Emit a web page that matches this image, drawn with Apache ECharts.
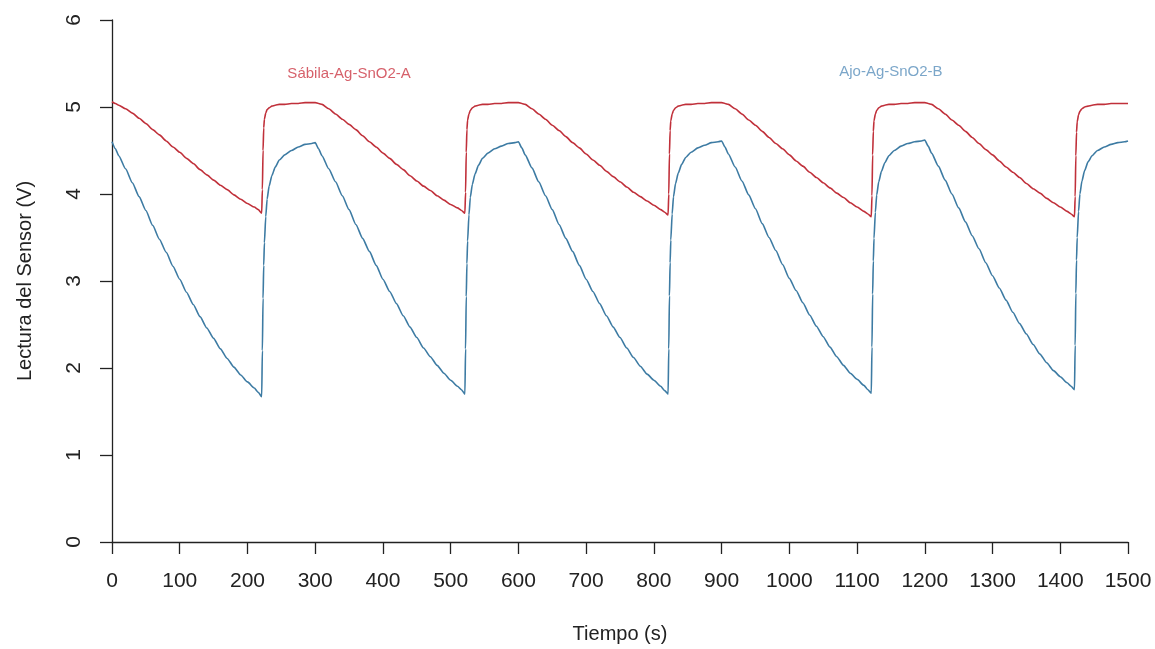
<!DOCTYPE html>
<html>
<head>
<meta charset="utf-8">
<script src="https://cdn.jsdelivr.net/npm/echarts@6/dist/echarts.min.js"></script>
<style>
  html, body { margin: 0; padding: 0; background: #ffffff; }
  #chart { width: 1155px; height: 649px; }
</style>
</head>
<body>
<div id="chart"></div>
<script>
// Sample times (s): five adsorption/recovery cycles of 300 s each
const tiempo = [
  0, 5, 10, 20, 30, 40, 50, 60, 70, 80, 90, 100, 110, 120, 130, 140, 150, 160, 170, 180, 190, 200, 210, 216, 221, 222, 223, 224, 225, 227, 229, 232, 236, 241, 247, 255, 265, 275, 285, 295,
  300, 305, 310, 320, 330, 340, 350, 360, 370, 380, 390, 400, 410, 420, 430, 440, 450, 460, 470, 480, 490, 500, 510, 516, 521, 522, 523, 524, 525, 527, 529, 532, 536, 541, 547, 555, 565, 575, 585, 595,
  600, 605, 610, 620, 630, 640, 650, 660, 670, 680, 690, 700, 710, 720, 730, 740, 750, 760, 770, 780, 790, 800, 810, 816, 821, 822, 823, 824, 825, 827, 829, 832, 836, 841, 847, 855, 865, 875, 885, 895,
  900, 905, 910, 920, 930, 940, 950, 960, 970, 980, 990, 1000, 1010, 1020, 1030, 1040, 1050, 1060, 1070, 1080, 1090, 1100, 1110, 1116, 1121, 1122, 1123, 1124, 1125, 1127, 1129, 1132, 1136, 1141, 1147, 1155, 1165, 1175, 1185, 1195,
  1200, 1205, 1210, 1220, 1230, 1240, 1250, 1260, 1270, 1280, 1290, 1300, 1310, 1320, 1330, 1340, 1350, 1360, 1370, 1380, 1390, 1400, 1410, 1416, 1421, 1422, 1423, 1424, 1425, 1427, 1429, 1432, 1436, 1441, 1447, 1455, 1465, 1475, 1485, 1495,
  1500
];

// Sensor A (Sábila-Ag-SnO2) reading, V
const sabila = [
  5.06, 5.04, 5.02, 4.98, 4.93, 4.87, 4.81, 4.74, 4.68, 4.61, 4.54, 4.48, 4.41, 4.35, 4.28, 4.22, 4.16, 4.10, 4.05, 3.99, 3.94, 3.89, 3.85, 3.82, 3.78, 4.05, 4.50, 4.76, 4.86, 4.93, 4.97, 4.99, 5.01, 5.02, 5.03, 5.03, 5.04, 5.04, 5.05, 5.05,
  5.05, 5.04, 5.03, 4.98, 4.92, 4.86, 4.80, 4.74, 4.67, 4.60, 4.54, 4.47, 4.41, 4.34, 4.28, 4.21, 4.15, 4.09, 4.04, 3.98, 3.93, 3.88, 3.84, 3.81, 3.78, 4.02, 4.48, 4.74, 4.85, 4.92, 4.96, 4.99, 5.01, 5.02, 5.03, 5.03, 5.04, 5.04, 5.05, 5.05,
  5.05, 5.04, 5.03, 4.98, 4.92, 4.86, 4.79, 4.73, 4.66, 4.59, 4.53, 4.46, 4.39, 4.33, 4.26, 4.20, 4.14, 4.08, 4.02, 3.97, 3.92, 3.87, 3.82, 3.79, 3.76, 4.00, 4.46, 4.73, 4.84, 4.92, 4.96, 4.99, 5.01, 5.02, 5.03, 5.03, 5.04, 5.04, 5.05, 5.05,
  5.05, 5.04, 5.03, 4.98, 4.92, 4.85, 4.79, 4.72, 4.65, 4.58, 4.52, 4.45, 4.38, 4.32, 4.25, 4.19, 4.13, 4.07, 4.01, 3.96, 3.90, 3.85, 3.80, 3.77, 3.74, 3.98, 4.45, 4.72, 4.84, 4.92, 4.96, 4.99, 5.01, 5.02, 5.03, 5.03, 5.04, 5.04, 5.05, 5.05,
  5.05, 5.04, 5.03, 4.98, 4.92, 4.85, 4.79, 4.72, 4.65, 4.58, 4.51, 4.45, 4.38, 4.31, 4.25, 4.19, 4.12, 4.06, 4.01, 3.95, 3.90, 3.85, 3.80, 3.77, 3.74, 3.97, 4.44, 4.71, 4.83, 4.91, 4.95, 4.98, 5.00, 5.01, 5.02, 5.03, 5.03, 5.04, 5.04, 5.04,
  5.04
];

// Sensor B (Ajo-Ag-SnO2) reading, V
const ajo = [
  4.60, 4.52, 4.44, 4.29, 4.13, 3.97, 3.81, 3.64, 3.48, 3.33, 3.17, 3.02, 2.87, 2.73, 2.59, 2.46, 2.34, 2.22, 2.11, 2.01, 1.92, 1.84, 1.77, 1.72, 1.67, 2.20, 2.80, 3.18, 3.44, 3.74, 3.94, 4.09, 4.21, 4.31, 4.39, 4.45, 4.50, 4.54, 4.57, 4.58,
  4.59, 4.52, 4.44, 4.29, 4.14, 3.98, 3.82, 3.65, 3.49, 3.34, 3.18, 3.02, 2.88, 2.74, 2.60, 2.47, 2.35, 2.23, 2.13, 2.03, 1.94, 1.86, 1.79, 1.75, 1.70, 2.22, 2.82, 3.20, 3.46, 3.76, 3.96, 4.11, 4.23, 4.33, 4.41, 4.47, 4.52, 4.55, 4.58, 4.59,
  4.60, 4.53, 4.45, 4.30, 4.14, 3.98, 3.82, 3.65, 3.49, 3.34, 3.18, 3.02, 2.88, 2.74, 2.60, 2.47, 2.35, 2.23, 2.12, 2.02, 1.93, 1.86, 1.79, 1.74, 1.70, 2.22, 2.83, 3.21, 3.47, 3.77, 3.97, 4.12, 4.24, 4.34, 4.42, 4.48, 4.53, 4.56, 4.59, 4.60,
  4.61, 4.54, 4.46, 4.31, 4.15, 3.99, 3.83, 3.66, 3.50, 3.35, 3.19, 3.03, 2.89, 2.75, 2.61, 2.48, 2.36, 2.24, 2.13, 2.03, 1.94, 1.87, 1.80, 1.75, 1.71, 2.24, 2.85, 3.23, 3.49, 3.79, 3.99, 4.14, 4.26, 4.36, 4.44, 4.50, 4.55, 4.58, 4.60, 4.61,
  4.62, 4.55, 4.47, 4.32, 4.16, 4.00, 3.84, 3.68, 3.52, 3.37, 3.21, 3.06, 2.92, 2.78, 2.64, 2.51, 2.39, 2.27, 2.16, 2.06, 1.97, 1.90, 1.83, 1.79, 1.75, 2.26, 2.86, 3.24, 3.50, 3.80, 4.00, 4.15, 4.27, 4.37, 4.44, 4.50, 4.54, 4.57, 4.59, 4.60,
  4.61
];

// In-plot labels: [time, volts, text]
const etiquetas = [
  [350, 5.38, 'Sábila-Ag-SnO2-A'],
  [1150, 5.40, 'Ajo-Ag-SnO2-B']
];

const xTicks = [0, 1500, 100];   // min, max, step
const yTicks = [0, 6, 1];

const ROJO = '#c0303a';
const AZUL = '#3d7ba3';
const FONT = '"Liberation Sans", Arial, sans-serif';

const pares = (ys) => tiempo.map((t, i) => [t, ys[i]]);

const chart = echarts.init(document.getElementById('chart'), null, { renderer: 'canvas' });

chart.setOption({
  animation: false,
  backgroundColor: '#ffffff',
  grid: { left: 112, right: 27, top: 20, bottom: 106, containLabel: false },
  xAxis: {
    type: 'value',
    min: xTicks[0], max: xTicks[1], interval: xTicks[2],
    name: 'Tiempo (s)',
    nameLocation: 'middle',
    nameGap: 82,
    nameTextStyle: { fontFamily: FONT, fontSize: 20, color: '#222' },
    axisLine: { show: true, lineStyle: { color: '#222', width: 1.3 } },
    axisTick: { show: true, inside: false, length: 12, lineStyle: { color: '#222', width: 1.3 } },
    axisLabel: {
      margin: 29, fontFamily: FONT, fontSize: 21, color: '#222',
      showMinLabel: true, showMaxLabel: true,
      formatter: (v) => String(v)
    },
    splitLine: { show: false }
  },
  yAxis: {
    type: 'value',
    min: yTicks[0], max: yTicks[1], interval: yTicks[2],
    name: 'Lectura del Sensor (V)',
    nameLocation: 'middle',
    nameGap: 77,
    nameRotate: 90,
    nameTextStyle: { fontFamily: FONT, fontSize: 20, color: '#222' },
    axisLine: { show: true, lineStyle: { color: '#222', width: 1.3 } },
    axisTick: { show: true, inside: false, length: 12, lineStyle: { color: '#222', width: 1.3 } },
    axisLabel: { rotate: 90, margin: 27, fontFamily: FONT, fontSize: 21, color: '#222', formatter: (v) => String(v) },
    splitLine: { show: false }
  },
  series: [
    {
      name: 'Sábila-Ag-SnO2-A',
      type: 'line',
      data: pares(sabila),
      showSymbol: false,
      smooth: 0.2,
      smoothMonotone: 'x',
      lineStyle: { color: ROJO, width: 1.6 },
      itemStyle: { color: ROJO },
      z: 3
    },
    {
      name: 'Ajo-Ag-SnO2-B',
      type: 'line',
      data: pares(ajo),
      showSymbol: false,
      smooth: 0.2,
      smoothMonotone: 'x',
      lineStyle: { color: AZUL, width: 1.6 },
      itemStyle: { color: AZUL },
      z: 2
    },
    {
      type: 'scatter',
      symbolSize: 0,
      silent: true,
      data: etiquetas.map((e, i) => ({
        value: [e[0], e[1]],
        label: {
          show: true,
          position: 'inside',
          formatter: e[2],
          fontFamily: FONT,
          fontSize: 15,
          color: i === 0 ? '#cc3845' : '#5a90bb'
        }
      }))
    }
  ]
});
</script>
</body>
</html>
